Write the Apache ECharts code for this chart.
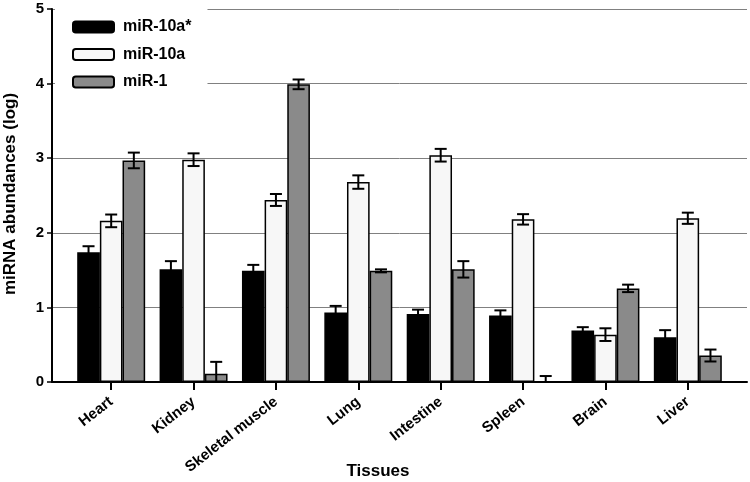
<!DOCTYPE html>
<html>
<head>
<meta charset="utf-8">
<script src="https://cdn.jsdelivr.net/npm/echarts@6/dist/echarts.min.js"></script>
<style>
html,body{margin:0;padding:0;background:#fff;}
#chart{width:750px;height:482px;}
</style>
</head>
<body>
<div id="chart"></div>
<script>
const categories = ['Heart', 'Kidney', 'Skeletal muscle', 'Lung', 'Intestine', 'Spleen', 'Brain', 'Liver'];
const seriesNames = ['miR-10a*', 'miR-10a', 'miR-1'];
const mir10aStar = [1.74, 1.51, 1.49, 0.93, 0.91, 0.89, 0.69, 0.60];
const mir10aStarErr = [0.08, 0.11, 0.08, 0.09, 0.06, 0.07, 0.045, 0.095];
const mir10a = [2.16, 2.98, 2.44, 2.68, 3.04, 2.18, 0.635, 2.195];
const mir10aErr = [0.085, 0.085, 0.08, 0.09, 0.085, 0.07, 0.085, 0.075];
const mir1 = [2.97, 0.11, 3.99, 1.49, 1.51, 0, 1.255, 0.355];
const mir1Err = [0.105, 0.16, 0.065, 0.02, 0.11, 0.08, 0.05, 0.08];
const yTicks = [0, 1, 2, 3, 4, 5];

const values = [mir10aStar, mir10a, mir1];
const errors = [mir10aStarErr, mir10aErr, mir1Err];
const colors = ['#000000', '#f7f7f7', '#8a8a8a'];
const FONT = '"Liberation Sans", Arial, sans-serif';
const CAT_GAP = 0.175;

const chart = echarts.init(document.getElementById('chart'), null, {renderer: 'canvas'});

function errRender(si) {
  return function (params, api) {
    const idx = api.value(0);
    const lo = api.value(1);
    const hi = api.value(2);
    const band = api.size([1, 0])[0];
    const bw = band * (1 - CAT_GAP) / 3;
    const off = -band * (1 - CAT_GAP) / 2 + bw * (si + 0.5);
    const pHi = api.coord([idx, hi]);
    const pLo = api.coord([idx, lo]);
    const x = pHi[0] + off;
    const cap = 6;
    const style = {stroke: '#000', lineWidth: 2, fill: null};
    return {
      type: 'group',
      children: [
        {type: 'line', shape: {x1: x, y1: pLo[1], x2: x, y2: pHi[1]}, style: style},
        {type: 'line', shape: {x1: x - cap, y1: pHi[1], x2: x + cap, y2: pHi[1]}, style: style},
        {type: 'line', shape: {x1: x - cap, y1: pLo[1], x2: x + cap, y2: pLo[1]}, style: style}
      ]
    };
  };
}

const series = [];
for (let i = 0; i < 3; i++) {
  series.push({
    name: seriesNames[i],
    type: 'bar',
    xAxisIndex: 1,
    yAxisIndex: 1,
    barGap: '0%',
    barCategoryGap: (CAT_GAP * 100) + '%',
    data: values[i],
    itemStyle: {color: colors[i], borderColor: '#000', borderWidth: 1.5},
    emphasis: {disabled: true},
    z: 3
  });
}
for (let i = 0; i < 3; i++) {
  series.push({
    type: 'custom',
    xAxisIndex: 1,
    yAxisIndex: 1,
    renderItem: errRender(i),
    data: values[i].map((v, k) => [k, Math.max(0, v - errors[i][k]), v + errors[i][k]]),
    z: 4,
    silent: true
  });
}

const option = {
  animation: false,
  backgroundColor: '#fff',
  grid: [
    {left: 52, right: 3, top: 9, bottom: 100},
    {left: 70, right: 21, top: 9, bottom: 100}
  ],
  legend: {
    data: seriesNames,
    orient: 'vertical',
    left: 55,
    top: 5,
    padding: [14, 16, 12, 17],
    backgroundColor: '#fff',
    itemWidth: 41,
    itemHeight: 11,
    itemGap: 11.5,
    z: 10,
    textStyle: {fontFamily: FONT, fontWeight: 'bold', fontSize: 16, color: '#000', padding: [0, 0, 0, 4]}
  },
  xAxis: [
    {
      type: 'value', gridIndex: 0, min: 0, max: 1,
      axisLine: {show: true, onZero: false, lineStyle: {color: '#000', width: 2}},
      axisTick: {show: false}, axisLabel: {show: false}, splitLine: {show: false}
    },
    {
      type: 'category', gridIndex: 1, data: categories,
      axisLine: {show: false},
      axisTick: {show: true, alignWithLabel: true, length: 8, lineStyle: {color: '#000', width: 2}},
      axisLabel: {rotate: 38, margin: 18, interval: 0, fontFamily: FONT, fontWeight: 'bold', fontSize: 15, color: '#000'},
      splitLine: {show: false}
    }
  ],
  yAxis: [
    {
      type: 'value', gridIndex: 0, min: yTicks[0], max: yTicks[yTicks.length - 1], interval: 1,
      axisLine: {show: true, lineStyle: {color: '#000', width: 2}},
      axisTick: {show: true, length: 5, lineStyle: {color: '#000', width: 1.5}},
      axisLabel: {margin: 8, fontFamily: FONT, fontWeight: 'bold', fontSize: 15, color: '#000'},
      splitLine: {show: true, lineStyle: {color: '#808080', width: 1}}
    },
    {
      type: 'value', gridIndex: 1, min: yTicks[0], max: yTicks[yTicks.length - 1], interval: 1,
      show: false, splitLine: {show: false}
    }
  ],
  graphic: [
    {
      type: 'text', x: 378, y: 471, z: 10,
      style: {text: 'Tissues', fontFamily: FONT, fontWeight: 'bold', fontSize: 17, fill: '#000', textAlign: 'center', textVerticalAlign: 'middle'}
    },
    {
      type: 'text', x: 10, y: 194, rotation: Math.PI / 2, z: 10,
      style: {text: 'miRNA abundances (log)', fontFamily: FONT, fontWeight: 'bold', fontSize: 17, fill: '#000', textAlign: 'center', textVerticalAlign: 'middle'}
    }
  ],
  series: series
};
chart.setOption(option);
</script>
</body>
</html>
